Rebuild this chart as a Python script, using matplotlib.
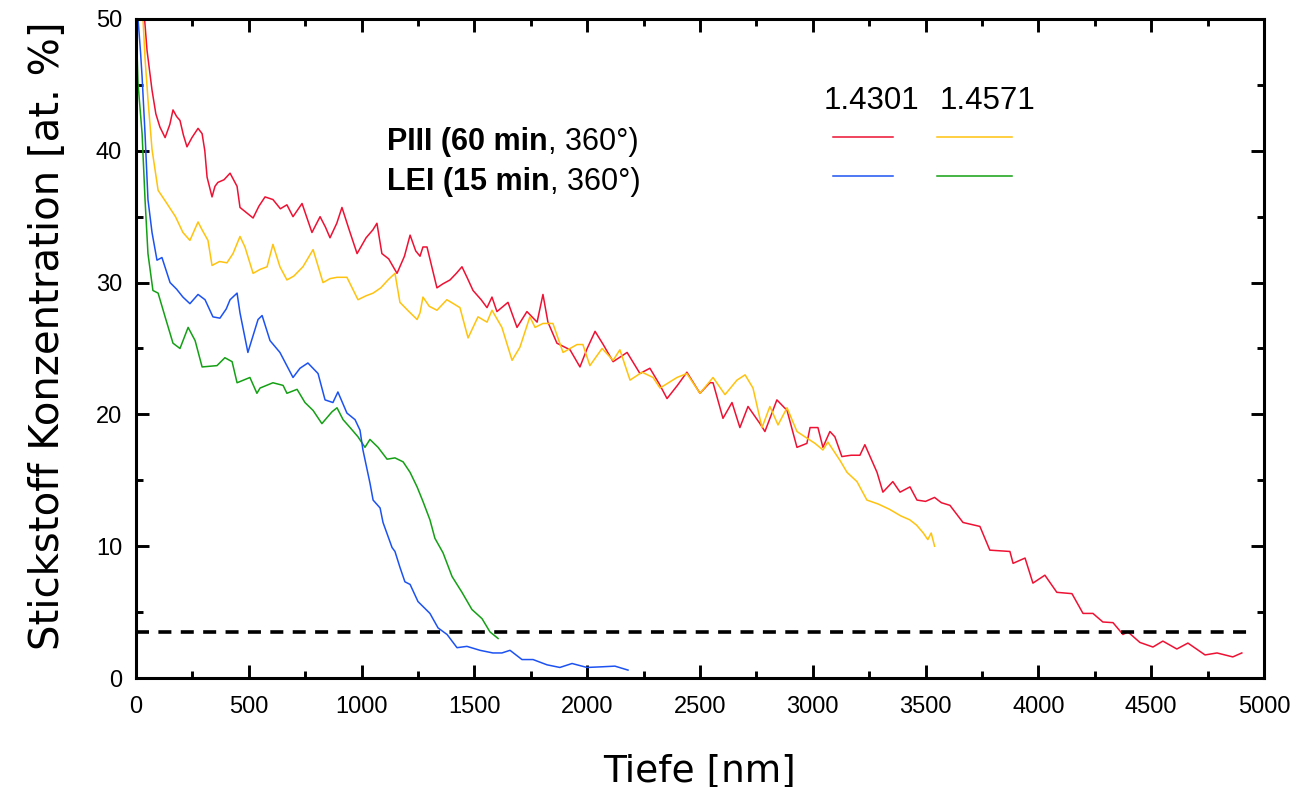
import matplotlib
matplotlib.use("Agg")
import matplotlib.pyplot as plt
from matplotlib.ticker import MultipleLocator

# ---- data ----
red_x = [38, 49, 71, 88, 106, 129, 150, 164, 180, 195, 210, 226, 248, 275, 293, 305, 315, 337, 350, 363,
         390, 417, 448, 461, 490, 519, 545, 572, 607, 640, 669, 696, 736, 760, 780, 816, 840, 860, 890, 913,
         945, 980, 1020, 1050, 1068, 1090, 1120, 1157, 1190, 1215, 1240, 1259, 1272, 1290, 1334, 1360, 1392,
         1420, 1445, 1470, 1494, 1530, 1556, 1578, 1600, 1649, 1689, 1733, 1778, 1804, 1826, 1866, 1924, 1968,
         2000, 2035, 2071, 2115, 2177, 2234, 2278, 2320, 2354, 2400, 2442, 2500, 2544, 2558, 2602, 2642, 2677,
         2713, 2766, 2788, 2841, 2886, 2930, 2974, 2988, 3023, 3045, 3076, 3098, 3129, 3170, 3209, 3231, 3285,
         3311, 3355, 3387, 3431, 3462, 3500, 3540, 3570, 3608, 3666, 3741, 3785, 3874, 3888, 3941, 3976, 4029,
         4082, 4149, 4198, 4242, 4286, 4331, 4375, 4397, 4450, 4508, 4552, 4614, 4663, 4739, 4792, 4862, 4902]
red_y = [50.0, 47.6, 44.6, 42.8, 41.8, 41.0, 42.0, 43.1, 42.6, 42.3, 41.2, 40.3, 41.0, 41.7, 41.3, 40.0, 38.0, 36.5, 37.3, 37.6,
         37.8, 38.3, 37.3, 35.7, 35.3, 34.9, 35.8, 36.5, 36.3, 35.6, 35.9, 35.0, 36.0, 34.8, 33.8, 35.0, 34.2, 33.4, 34.5, 35.7,
         34.0, 32.2, 33.4, 34.0, 34.5, 32.2, 31.8, 30.7, 32.0, 33.6, 32.4, 32.0, 32.7, 32.7, 29.6, 29.9, 30.2,
         30.7, 31.2, 30.3, 29.4, 28.7, 28.1, 28.9, 27.8, 28.5, 26.6, 27.8, 27.0, 29.1, 27.0, 25.4, 24.9, 23.6,
         25.0, 26.3, 25.3, 24.0, 24.7, 23.1, 23.5, 22.3, 21.2, 22.2, 23.2, 21.6, 22.4, 22.4, 19.7, 20.9, 19.0,
         20.6, 19.3, 18.7, 21.1, 20.3, 17.5, 17.8, 19.0, 19.0, 17.5, 18.7, 18.3, 16.8, 16.9, 16.9, 17.7, 15.6,
         14.1, 14.9, 14.1, 14.5, 13.5, 13.4, 13.7, 13.3, 13.1, 11.8, 11.5, 9.7, 9.6, 8.7, 9.1, 7.2, 7.8,
         6.5, 6.4, 4.9, 4.9, 4.25, 4.2, 3.3, 3.5, 2.7, 2.35, 2.8, 2.2, 2.65, 1.75, 1.9, 1.6, 1.9]

yellow_x = [31, 40, 53, 71, 98, 137, 175, 208, 239, 275, 293, 319, 337, 370, 403, 430, 461, 483, 519, 550,
            581, 607, 638, 669, 700, 740, 785, 829, 860, 891, 935, 984, 1020, 1051, 1085, 1117, 1148, 1170, 1210,
            1246, 1259, 1272, 1300, 1334, 1378, 1436, 1472, 1516, 1556, 1578, 1622, 1667, 1702, 1746, 1769, 1804,
            1848, 1893, 1955, 1981, 2012, 2066, 2115, 2145, 2190, 2243, 2292, 2323, 2398, 2442, 2500, 2558, 2611,
            2664, 2700, 2735, 2775, 2810, 2846, 2886, 2930, 2965, 3010, 3045, 3067, 3121, 3152, 3196, 3240, 3290,
            3340, 3390, 3430, 3460, 3490, 3510, 3525, 3540]
yellow_y = [50.0, 47.0, 43.9, 40.1, 37.0, 36.0, 35.0, 33.8, 33.2, 34.6, 34.0, 33.2, 31.3, 31.6, 31.5, 32.2, 33.5, 32.7, 30.7, 31.0,
            31.2, 32.9, 31.2, 30.2, 30.5, 31.2, 32.5, 30.0, 30.3, 30.4, 30.4, 28.7, 29.0, 29.2, 29.6, 30.2, 30.7, 28.5, 27.8,
            27.2, 27.7, 28.9, 28.2, 27.9, 28.7, 28.1, 25.8, 27.4, 27.0, 27.9, 26.6, 24.1, 25.1, 27.4, 26.6, 26.9,
            26.9, 24.7, 25.3, 25.3, 23.7, 25.0, 24.1, 24.9, 22.6, 23.2, 22.8, 22.0, 22.8, 23.1, 21.6, 22.8, 21.5,
            22.6, 23.0, 22.0, 19.0, 20.6, 19.2, 20.5, 18.7, 18.3, 17.8, 17.3, 17.9, 16.5, 15.6, 14.9, 13.5, 13.2,
            12.8, 12.3, 12.0, 11.6, 11.0, 10.5, 11.0, 10.0]

blue_x = [9, 20, 27, 40, 53, 71, 93, 115, 151, 180, 208, 239, 275, 306, 341, 372, 400, 417, 448, 461,
          496, 541, 559, 594, 638, 696, 727, 762, 807, 838, 873, 895, 935, 971, 993, 1006, 1037, 1051, 1082,
          1095, 1135, 1148, 1170, 1192, 1215, 1250, 1303, 1339, 1379, 1423, 1467, 1525, 1582, 1622, 1658,
          1711, 1760, 1822, 1879, 1933, 1999, 2066, 2123, 2181]
blue_y = [50.0, 47.5, 45.6, 41.3, 36.3, 33.8, 31.7, 31.9, 30.0, 29.5, 28.9, 28.4, 29.1, 28.7, 27.4, 27.3, 28.0, 28.7, 29.2, 27.7,
          24.7, 27.2, 27.5, 25.6, 24.7, 22.8, 23.5, 23.9, 23.1, 21.1, 20.9, 21.7, 20.1, 19.6, 18.8, 17.3, 14.8, 13.5, 12.9,
          11.8, 9.9, 9.6, 8.4, 7.3, 7.1, 5.8, 4.9, 3.8, 3.3, 2.3, 2.4, 2.1, 1.9, 1.9, 2.1,
          1.4, 1.4, 1.0, 0.8, 1.1, 0.8, 0.85, 0.9, 0.6]

green_x = [0, 9, 27, 40, 53, 75, 98, 129, 164, 195, 231, 262, 293, 359, 394, 426, 448, 505, 536, 550,
           607, 652, 669, 714, 749, 785, 824, 869, 891, 918, 949, 984, 1015, 1037, 1073, 1113, 1148, 1184,
           1215, 1246, 1272, 1303, 1325, 1361, 1401, 1445, 1489, 1534, 1569, 1605]
green_y = [50.0, 45.1, 41.3, 36.3, 32.2, 29.4, 29.2, 27.4, 25.4, 25.0, 26.6, 25.6, 23.6, 23.7, 24.3, 24.0, 22.4, 22.8, 21.6, 22.0,
           22.4, 22.2, 21.6, 21.9, 20.9, 20.3, 19.3, 20.2, 20.5, 19.6, 19.0, 18.3, 17.5, 18.1, 17.5, 16.6, 16.7, 16.4,
           15.6, 14.5, 13.4, 12.0, 10.6, 9.5, 7.7, 6.5, 5.2, 4.5, 3.5, 3.0]

threshold = 3.5
legend_headers = ["1.4301", "1.4571"]
row_labels = [("PIII", "60 min"), ("LEI", "15 min")]
xlabel = "Tiefe [nm]"
ylabel = "Stickstoff Konzentration [at. %]"

C_RED = "#EE1133"
C_YEL = "#FFC20E"
C_BLUE = "#1D52F2"
C_GREEN = "#14A014"

fig = plt.figure(figsize=(12.99, 7.87), dpi=100)
ax = fig.add_axes([0.1047, 0.1385, 0.9730 - 0.1047, 0.9759 - 0.1385])

lw = 1.1
ax.plot(red_x, red_y, color=C_RED, lw=lw)
ax.plot(yellow_x, yellow_y, color=C_YEL, lw=lw)
ax.plot(green_x, green_y, color=C_GREEN, lw=lw)
ax.plot(blue_x, blue_y, color=C_BLUE, lw=lw)

ax.axhline(threshold, xmin=0.0, xmax=0.988, color="black", lw=2.6, linestyle=(0, (3.6, 2.6)))

ax.set_xlim(0, 5000)
ax.set_ylim(0, 50)
ax.xaxis.set_major_locator(MultipleLocator(500))
ax.xaxis.set_minor_locator(MultipleLocator(250))
ax.yaxis.set_major_locator(MultipleLocator(10))
ax.yaxis.set_minor_locator(MultipleLocator(5))

for s in ax.spines.values():
    s.set_linewidth(2.2)
ax.tick_params(which="both", direction="in", top=True, right=True, width=2.1)
ax.tick_params(which="major", length=9.5)
ax.tick_params(which="minor", length=5)
ax.tick_params(axis="x", pad=13)
ax.tick_params(axis="y", pad=10)
for lab in ax.get_xticklabels() + ax.get_yticklabels():
    lab.set_fontfamily("Liberation Sans")
    lab.set_fontsize(17)

ax.set_xlabel(xlabel, fontsize=27, family="DejaVu Sans", labelpad=25)
ax.set_ylabel(ylabel, fontsize=29, family="DejaVu Sans")
ax.yaxis.set_label_coords(-0.060, 0.52)

# annotation block
tfont = "Liberation Sans"
fs = 22
ys = [0.813, 0.753]
for (a, b), yy in zip(row_labels, ys):
    t1 = ax.text(0.2225, yy, a + " (", transform=ax.transAxes, fontsize=fs, family=tfont,
                 fontweight="bold", va="center", ha="left")
    fig.canvas.draw()
    bb = t1.get_window_extent()
    inv = ax.transAxes.inverted()
    x2 = inv.transform((bb.x1, 0))[0]
    t2 = ax.text(x2, yy, b, transform=ax.transAxes, fontsize=fs, family=tfont,
                 fontweight="bold", va="center", ha="left")
    fig.canvas.draw()
    bb = t2.get_window_extent()
    x3 = inv.transform((bb.x1, 0))[0]
    ax.text(x3, yy, ", 360°)", transform=ax.transAxes, fontsize=fs, family=tfont,
            va="center", ha="left")

ax.text(0.6516, 0.8756, legend_headers[0], transform=ax.transAxes, fontsize=22.5, family=tfont,
        ha="center", va="center")
ax.text(0.7553, 0.8756, legend_headers[1], transform=ax.transAxes, fontsize=22.5, family=tfont,
        ha="center", va="center")

ly1, ly2 = 0.821, 0.762
ax.plot([0.618, 0.671], [ly1, ly1], transform=ax.transAxes, color=C_RED, lw=lw)
ax.plot([0.710, 0.777], [ly1, ly1], transform=ax.transAxes, color=C_YEL, lw=lw)
ax.plot([0.618, 0.671], [ly2, ly2], transform=ax.transAxes, color=C_BLUE, lw=lw)
ax.plot([0.710, 0.777], [ly2, ly2], transform=ax.transAxes, color=C_GREEN, lw=lw)

fig.savefig("out.png", dpi=100)
